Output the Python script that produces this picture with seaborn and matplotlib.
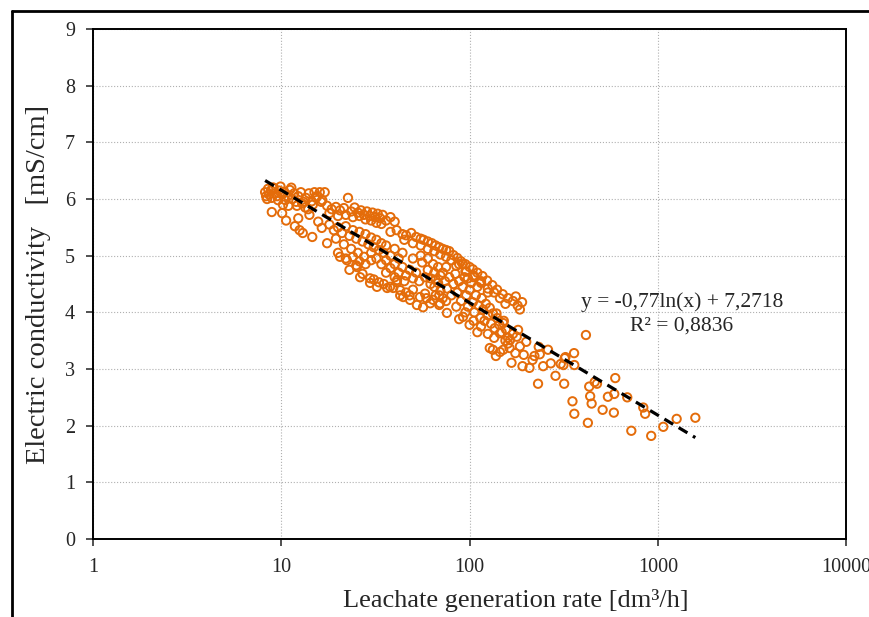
import numpy as np
import pandas as pd
import matplotlib.pyplot as plt
import matplotlib.ticker as mticker
from matplotlib.lines import Line2D
import seaborn as sns

# values, grouped by the visible bands
top_blob_x = [8.2, 8.3, 8.5, 8.6, 8.8, 8.9, 9.1, 9.3, 9.5, 9.7, 9.9, 10.1, 10.3, 10.5, 10.8, 11.1,
              11.4, 11.7, 12.0, 12.3, 12.7, 13.1, 13.5, 14.0, 14.5, 15.0, 15.5, 16.0, 16.5, 17.0,
              8.4, 9.0, 9.6, 10.2, 10.9, 11.3, 12.1, 12.9, 13.4, 13.9, 14.7, 15.3, 16.3,
              8.9, 10.1, 11.8, 12.5, 13.0, 14.6, 15.7, 16.4, 17.5, 12.3, 10.6, 14.1]
top_blob_y = [6.12, 6.05, 6.18, 6.08, 6.15, 6.02, 6.20, 6.10, 6.05, 6.15, 6.22, 6.08, 6.13, 5.98, 6.05, 6.16,
              6.00, 6.10, 5.95, 6.05, 6.12, 5.95, 6.02, 6.10, 5.96, 6.12, 6.05, 6.12, 5.98, 6.12,
              6.00, 6.20, 5.98, 5.90, 5.88, 6.20, 5.88, 5.92, 5.85, 5.82, 5.90, 6.02, 5.95,
              5.77, 5.75, 5.52, 5.45, 5.40, 5.33, 5.60, 5.49, 5.22, 5.66, 5.62, 5.72]

upper_row_x = [17.5, 18.5, 19.5, 20.5, 21.5, 22.6, 23.5, 24.5, 25.5, 26.5, 27.5, 28.5, 29.5, 30.5, 31.5,
               32.5, 33.5, 34.5, 36, 38, 40, 18, 20, 22, 24, 26, 28, 30, 32, 34]
upper_row_y = [5.88, 5.82, 5.86, 5.80, 5.84, 6.02, 5.78, 5.85, 5.76, 5.80, 5.72, 5.78, 5.70, 5.76, 5.68,
               5.74, 5.66, 5.72, 5.62, 5.68, 5.60, 5.75, 5.70, 5.72, 5.68, 5.70, 5.64, 5.62, 5.58, 5.56]

mid_band_x = [18, 19, 20, 21, 22, 23, 24, 25, 26, 27, 28, 29, 30, 31, 32, 33, 34, 35, 36, 38, 40, 42, 44,
              19.5, 21.5, 23.5, 25.5, 27.5, 20, 22, 24, 26, 28, 30]
mid_band_y = [5.55, 5.45, 5.50, 5.40, 5.52, 5.35, 5.45, 5.30, 5.42, 5.25, 5.38, 5.20, 5.32, 5.15, 5.28,
              5.10, 5.22, 5.05, 5.18, 5.00, 5.12, 4.95, 5.05, 5.30, 5.20, 5.12, 5.05, 4.98, 5.05, 4.95,
              4.98, 4.90, 4.85, 4.92]

upper_band_x = [38, 41, 44, 46, 49, 52, 55, 57, 60, 63, 66, 69, 72, 75, 78, 82, 86, 90, 95, 100, 104, 110,
                117, 124, 132, 140, 150, 160, 170, 180, 185, 190, 176,
                45, 50, 55, 60, 65, 70, 75, 80, 88, 96, 105, 115, 125, 135, 145, 155]
upper_band_y = [5.42, 5.45, 5.38, 5.36, 5.40, 5.33, 5.30, 5.28, 5.25, 5.22, 5.18, 5.15, 5.12, 5.10, 5.08,
                5.01, 4.96, 4.90, 4.85, 4.80, 4.76, 4.70, 4.64, 4.56, 4.48, 4.40, 4.32, 4.25, 4.20, 4.12,
                4.05, 4.18, 4.28,
                5.28, 5.22, 5.18, 5.12, 5.08, 5.02, 4.98, 4.92, 4.85, 4.72, 4.62, 4.52, 4.42, 4.35, 4.25, 4.15]

lower_lobe_x = [20.5, 22.3, 25.2, 26.2, 29.6, 32.2, 36.5, 39.3, 41.2, 42.8, 44.4, 48.3, 54.5, 56.6, 61.8,
                69.7, 75.8, 92.3, 25, 29.6, 33, 37.8, 41, 42.8, 48, 52.5, 59, 69, 69,
                23, 27, 31, 35, 46, 50, 58, 64, 72]
lower_lobe_y = [4.98, 4.92, 4.80, 4.62, 4.52, 4.45, 4.43, 4.43, 4.57, 4.39, 4.27, 4.22, 4.27, 4.09, 4.16,
                4.16, 3.99, 3.92, 4.83, 4.60, 4.53, 4.45, 4.53, 4.30, 4.30, 4.13, 4.25, 4.30, 4.13,
                4.75, 4.68, 4.58, 4.50, 4.35, 4.40, 4.33, 4.22, 4.25]

middle_x = [30, 32, 34, 36, 38, 40, 42, 44, 46, 48, 50, 52, 54, 56, 58, 60, 62, 64, 66, 68,
            36, 40, 45, 50, 55, 60, 65, 70]
middle_y = [5.05, 4.95, 4.85, 4.92, 4.78, 4.85, 4.70, 4.80, 4.65, 4.75, 4.60, 4.70, 4.55, 4.88, 4.62,
            4.95, 4.50, 4.85, 4.58, 4.80, 4.70, 4.62, 4.55, 4.95, 5.00, 4.75, 4.70, 4.65]

right_x = [62, 65, 68, 70, 72, 74, 76, 78, 80, 82, 84, 86, 88, 90, 92, 94, 96, 98, 100, 102, 104, 106,
           108, 110, 112, 114, 116, 118, 120, 122, 125, 128, 130, 133, 136, 140, 144, 148, 152, 156,
           160, 75, 85, 95, 105, 115, 125, 66, 75, 85, 95, 105, 115, 125, 135, 88, 100, 110, 92, 98]
right_y = [4.60, 4.45, 4.52, 4.38, 4.70, 4.55, 4.42, 4.62, 4.30, 4.50, 4.68, 4.35, 4.55, 4.20, 4.45,
           4.62, 4.30, 4.10, 4.40, 4.52, 4.18, 4.00, 4.30, 4.45, 4.12, 3.90, 4.25, 4.05, 3.85, 4.15,
           3.95, 4.08, 3.80, 3.98, 3.72, 3.90, 3.78, 3.65, 3.85, 3.70, 3.55, 4.80, 4.82, 4.72, 4.65,
           4.55, 4.35, 4.30, 4.20, 4.10, 4.00, 3.85, 3.75, 3.62, 3.55, 3.88, 3.78, 3.65, 4.85, 4.60]

tail_x = [133, 138, 151, 128, 145, 163, 139, 151, 145, 181, 164, 178, 167, 208, 191, 246, 270, 305,
          233, 261, 194, 216, 221, 236, 231, 286, 323, 160, 170, 185, 200, 155, 175]
tail_y = [3.34, 3.23, 3.34, 3.37, 3.30, 3.37, 3.98, 3.81, 3.63, 3.69, 3.51, 3.57, 3.11, 3.02, 3.05,
          3.05, 3.10, 3.09, 3.39, 3.34, 3.25, 3.16, 3.23, 3.26, 2.74, 2.88, 3.21, 3.45, 3.62, 3.40,
          3.48, 3.50, 3.28]

far_x = [415, 320, 359, 315, 360, 318, 432, 462, 475, 594, 437, 543, 587, 688, 352, 445, 509, 584,
         360, 837, 856, 425, 723, 922, 1069, 1259, 1582]
far_y = [3.60, 3.19, 3.28, 3.07, 3.07, 2.74, 2.69, 2.77, 2.74, 2.84, 2.52, 2.51, 2.56, 2.50, 2.43,
         2.39, 2.28, 2.23, 2.21, 2.32, 2.21, 2.05, 1.91, 1.82, 1.98, 2.12, 2.14]

# trend line as it appears in the picture: y = a*ln(x) + b
trend_a = -0.862
trend_b = 8.14
trend_label = "y = -0,77ln(x) + 7,2718\nR² = 0,8836"

df = pd.DataFrame({
    'rate': top_blob_x + upper_row_x + mid_band_x + upper_band_x + lower_lobe_x + middle_x
            + right_x + tail_x + far_x,
    'ec': top_blob_y + upper_row_y + mid_band_y + upper_band_y + lower_lobe_y + middle_y
          + right_y + tail_y + far_y,
})

orange = '#E46C0A'
font_size = 14.5

sns.set_style('white')
plt.rcParams['font.family'] = ['Liberation Serif', 'DejaVu Serif']

fig = plt.figure(figsize=(8.7, 6.17), dpi=100)
ax = fig.add_axes([0.107, 0.1264, 0.8655, 0.8266])

sns.scatterplot(data=df, x='rate', y='ec', ax=ax, marker='o', s=36,
                facecolors='none', edgecolor=orange, linewidth=1.4, zorder=3)

x_fit = np.geomspace(df['rate'].min(), df['rate'].max(), 200)
y_fit = trend_a * np.log(x_fit) + trend_b
ax.plot(x_fit, y_fit, color='black', linestyle=(0, (3.2, 2)), linewidth=2.3, zorder=4)

ax.set_xscale('log')
ax.set_xlim(1, 10000)
ax.set_ylim(0, 9)
ax.set_xticks([1, 10, 100, 1000, 10000])
ax.xaxis.set_major_formatter(mticker.FuncFormatter(lambda v, p: f'{v:g}'))
ax.xaxis.set_minor_locator(mticker.NullLocator())
ax.set_yticks(range(0, 10))

ax.grid(True, which='major', linestyle=':', linewidth=0.8, color='#B0B0B0')
for sp in ax.spines.values():
    sp.set_color('black')
    sp.set_linewidth(1.4)

ax.tick_params(axis='both', direction='out', length=5, width=1.2, color='#333333',
               labelsize=font_size, left=True, bottom=True)
ax.tick_params(axis='y', pad=8)
ax.tick_params(axis='x', pad=9)
ax.set_xlabel('Leachate generation rate [dm³/h]', fontsize=19)
ax.xaxis.set_label_coords(0.562, -0.098)
ax.set_ylabel('Electric conductivity   [mS/cm]', fontsize=20.5, labelpad=10)

ax.text(0.782, 0.442, trend_label, transform=ax.transAxes, ha='center', va='center',
        multialignment='center', fontsize=15.5, linespacing=1.35)

# outer frame lines of the source image
fig.add_artist(Line2D([12 / 870, 1], [1 - 11 / 617, 1 - 11 / 617], color='black', linewidth=2))
fig.add_artist(Line2D([12 / 870, 12 / 870], [0, 1 - 11 / 617], color='black', linewidth=2))

fig.savefig('out.png', dpi=100)
